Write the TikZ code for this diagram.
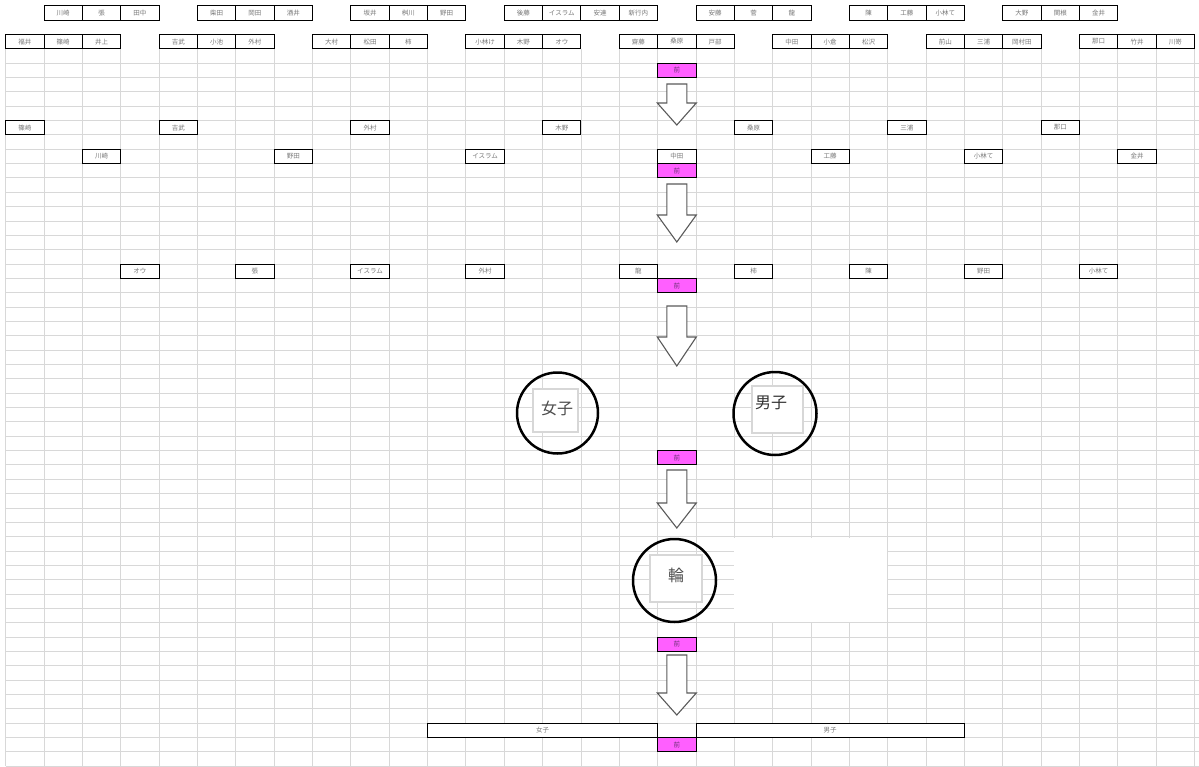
\documentclass[tikz,border=0pt]{standalone}
\usepackage{fontspec}
\newfontfamily\jp{Noto Sans CJK JP}
\definecolor{gridc}{RGB}{216,216,216}
\definecolor{pinkc}{RGB}{255,95,255}
\definecolor{labc}{RGB}{120,120,120}
\definecolor{maec}{RGB}{110,50,120}
\definecolor{arrc}{RGB}{90,90,90}
\definecolor{sqc}{RGB}{215,215,215}
\tikzset{
  gridline/.style={draw=gridc, line width=0.9pt},
  namebox/.style={anchor=north west, draw=black, line width=1pt, fill=white,
    minimum width=38.35pt, minimum height=14.35pt, inner sep=0pt, outer sep=0pt,
    font=\jp\fontsize{6.5}{7}\selectfont, text=labc},
  frontcell/.style={namebox, fill=pinkc, text=maec},
  blockarr/.style={draw=arrc, fill=white, line width=1.1pt, line join=miter},
  ring/.style={circle, draw=black, line width=2.5pt, inner sep=0pt, outer sep=0pt},
  sqbox/.style={draw=sqc, fill=white, line width=1.5pt, inner sep=0pt},
  bigtext/.style={font=\jp\fontsize{16}{18}\selectfont, text=black!70, inner sep=0pt}
}
\newcommand\gcell[5][]{\node[namebox,#1] (#2) at ({5.7+38.35*(#3-1)},{5.7+14.35*(#4-1)}) {#5};}
\newcommand\blockarrow[3]{\draw[blockarr] (666.8,#1) -- (686.8,#1) -- (686.8,#2) -- (696.3,#2) -- (676.8,#3) -- (657.3,#2) -- (666.8,#2) -- cycle;}
\begin{document}
\begin{tikzpicture}[x=1pt,y=-1pt]
\path[use as bounding box] (0,0) rectangle (1199,766);
\fill[white] (0,0) rectangle (1199,766);
% grid
\foreach \k in {0,...,31} \draw[gridline] ({5.7+38.35*\k},48.75) -- ({5.7+38.35*\k},766);
\foreach \n in {4,...,53} \draw[gridline] (5.7,{5.7+14.35*\n}) -- (1199,{5.7+14.35*\n});
% blank region
\fill[white] (733.6,537.6) rectangle (887.2,622.0);
% row 1
\gcell{a1}{2}{1}{川崎}\gcell{a2}{3}{1}{張}\gcell{a3}{4}{1}{田中}
\gcell{a4}{6}{1}{柴田}\gcell{a5}{7}{1}{岡田}\gcell{a6}{8}{1}{酒井}
\gcell{a7}{10}{1}{坂井}\gcell{a8}{11}{1}{桝川}\gcell{a9}{12}{1}{野田}
\gcell{a10}{14}{1}{後藤}\gcell{a11}{15}{1}{イスラム}\gcell{a12}{16}{1}{安達}\gcell{a13}{17}{1}{新行内}
\gcell{a14}{19}{1}{安藤}\gcell{a15}{20}{1}{菅}\gcell{a16}{21}{1}{龍}
\gcell{a17}{23}{1}{陳}\gcell{a18}{24}{1}{工藤}\gcell{a19}{25}{1}{小林て}
\gcell{a20}{27}{1}{大野}\gcell{a21}{28}{1}{関根}\gcell{a22}{29}{1}{金井}
% row 3
\gcell{b1}{1}{3}{福井}\gcell{b2}{2}{3}{篠崎}\gcell{b3}{3}{3}{井上}
\gcell{b4}{5}{3}{吉武}\gcell{b5}{6}{3}{小池}\gcell{b6}{7}{3}{外村}
\gcell{b7}{9}{3}{大村}\gcell{b8}{10}{3}{松田}\gcell{b9}{11}{3}{柿}
\gcell{b10}{13}{3}{小林け}\gcell{b11}{14}{3}{木野}\gcell{b12}{15}{3}{オウ}
\gcell{b13}{17}{3}{齋藤}\gcell{b14}{18}{3}{桑原}\gcell{b15}{19}{3}{戸部}
\gcell{b16}{21}{3}{中田}\gcell{b17}{22}{3}{小倉}\gcell{b18}{23}{3}{松沢}
\gcell{b19}{25}{3}{前山}\gcell{b20}{26}{3}{三浦}\gcell{b21}{27}{3}{岡村田}
\gcell{b22}{29}{3}{那口}\gcell{b23}{30}{3}{竹井}\gcell{b24}{31}{3}{川嵜}
% front cells
\gcell[frontcell]{f1}{18}{5}{前}
\gcell[frontcell]{f2}{18}{12}{前}
\gcell[frontcell]{f3}{18}{20}{前}
\gcell[frontcell]{f4}{18}{32}{前}
\gcell[frontcell]{f5}{18}{45}{前}
\gcell[frontcell]{f6}{18}{52}{前}
% row 9
\gcell{c1}{1}{9}{篠崎}\gcell{c2}{5}{9}{吉武}\gcell{c3}{10}{9}{外村}\gcell{c4}{15}{9}{木野}
\gcell{c5}{20}{9}{桑原}\gcell{c6}{24}{9}{三浦}\gcell{c7}{28}{9}{那口}
% row 11
\gcell{d1}{3}{11}{川崎}\gcell{d2}{8}{11}{野田}\gcell{d3}{13}{11}{イスラム}\gcell{d4}{18}{11}{中田}
\gcell{d5}{22}{11}{工藤}\gcell{d6}{26}{11}{小林て}\gcell{d7}{30}{11}{金井}
% row 19
\gcell{e1}{4}{19}{オウ}\gcell{e2}{7}{19}{張}\gcell{e3}{10}{19}{イスラム}\gcell{e4}{13}{19}{外村}
\gcell{e5}{17}{19}{龍}\gcell{e6}{20}{19}{柿}\gcell{e7}{23}{19}{陳}\gcell{e8}{26}{19}{野田}\gcell{e9}{29}{19}{小林て}
% row 51
\gcell[minimum width=230.1pt]{g1}{12}{51}{女子}
\gcell[minimum width=268.45pt]{g2}{19}{51}{男子}
% block arrows
\blockarrow{84}{103}{125}
\blockarrow{184}{215}{242}
\blockarrow{306}{337}{366}
\blockarrow{470}{503}{528}
\blockarrow{655}{693}{715}
% circles
\node[sqbox, minimum width=45pt, minimum height=43pt] (sqw) at (555.5,410.5) {};
\node[bigtext] (tw) at (557,408) {女子};
\node[ring, minimum size=81pt] (cw) at (557.5,413) {};
\node[sqbox, minimum width=51pt, minimum height=47pt] (sqm) at (777.5,409.5) {};
\node[bigtext, text=black!80] (tm) at (771,403) {男子};
\node[ring, minimum size=83pt] (cm) at (775,413.5) {};
\node[sqbox, minimum width=52pt, minimum height=47pt] (sqr) at (676,578.5) {};
\node[bigtext] (tr) at (676,575) {輪};
\node[ring, minimum size=83pt] (cr) at (674.5,580.5) {};
\end{tikzpicture}
\end{document}
